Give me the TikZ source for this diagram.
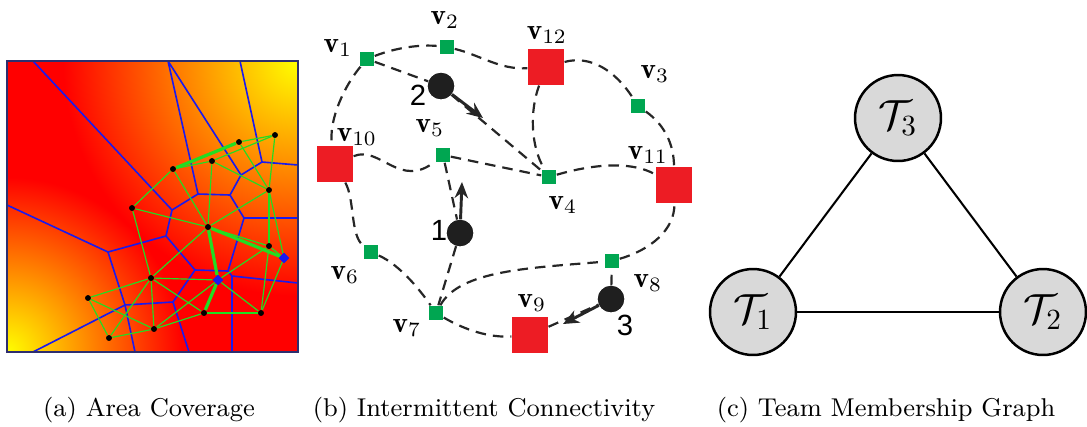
\documentclass[tikz,border=0pt]{standalone}
\usepackage{amsmath}
\usepackage{amssymb}
\usepackage{fontspec}
\newfontfamily\robotfont{Liberation Sans}
\usetikzlibrary{shapes,arrows,arrows.meta,positioning,calc}
\definecolor{sgreen}{HTML}{00A651}
\definecolor{dred}{HTML}{ED1C24}
\definecolor{vgreen}{HTML}{22DD22}
\definecolor{vblue}{HTML}{1A1AEE}
\definecolor{frameblue}{HTML}{2E2E6E}
\tikzset{
site/.style = {draw=none, fill=black, circle, inner sep=0pt, minimum size=1.9pt},
agent/.style = {draw=none, fill=vblue, diamond, inner sep=0pt, minimum size=3.6pt},
dlink/.style = {draw=vgreen, line width=0.4pt},
dthick/.style = {draw=vgreen, line width=1.1pt},
cell/.style = {draw=vblue, line width=0.55pt},
sensor/.style = {draw=none, fill=sgreen, rectangle, inner sep=0pt, minimum size=4.9pt},
depot/.style = {draw=none, fill=dred, rectangle, inner sep=0pt, minimum size=12.3pt},
robot/.style = {draw=none, fill=black!88, circle, inner sep=0pt, minimum size=9pt},
route/.style = {line width=0.75pt, dash pattern=on 3.6pt off 2.4pt, black!85},
move/.style = {-{Stealth[length=5.5pt, width=4.6pt]}, line width=1pt, black!85},
vlab/.style = {inner sep=0pt},
rlab/.style = {inner sep=0pt, font=\robotfont},
team/.style = {draw, fill=black!15, circle, line width=0.85pt, minimum size=29.4pt, inner sep=0pt, font=\Large},
tlink/.style = {line width=0.7pt},
subcap/.style = {inner sep=0pt, font=\fontsize{8.8}{10}\selectfont}
}

\begin{document}
\begin{tikzpicture}[x=0.342pt, y=-0.342pt]
    \useasboundingbox (0,0) rectangle (1087,426);

    % (a) coverage field
    \begin{scope}
    \clip (7,61) rectangle (298,352);
    \fill[red] (7,61) rectangle (298,352);
    \shade[inner color=yellow, outer color=red] (298,61) circle (235);
    \shade[inner color=yellow, outer color=red] (7,352) circle (175);
    % voronoi cells
    \draw[cell] (33,61) -- (172,210) -- (198,194) -- (230,195) -- (241,175) -- (262,162) -- (298,165);
    \draw[cell] (262,162) -- (240,61);
    \draw[cell] (241,175) -- (168,61) -- (198,194);
    \draw[cell] (230,195) -- (244,218) -- (298,218);
    \draw[cell] (244,218) -- (228,271) -- (195,270);
    \draw[cell] (228,271) -- (232,276) -- (298,283);
    \draw[cell] (232,276) -- (232,352);
    \draw[cell] (172,210) -- (166,236) -- (108,252) -- (7,205);
    \draw[cell] (166,236) -- (195,270) -- (173,302) -- (125,305) -- (108,252);
    \draw[cell] (125,305) -- (33,352);
    \draw[cell] (125,305) -- (135,352);
    \draw[cell] (173,302) -- (189,352);
    \end{scope}
    \draw[frameblue, line width=0.6pt] (7,61) rectangle (298,352);

    \node [site] (a1) at (275,135) {};
    \node [site] (a2) at (239,142) {};
    \node [site] (a3) at (212,161) {};
    \node [site] (a4) at (173,169) {};
    \node [site] (a5) at (269,190) {};
    \node [site] (a6) at (132,208) {};
    \node [site] (a7) at (208,227) {};
    \node [site] (a8) at (269,246) {};
    \node [site] (a9) at (151,278) {};
    \node [site] (a10) at (88,298) {};
    \node [site] (a11) at (204,313) {};
    \node [site] (a12) at (261,313) {};
    \node [site] (a13) at (154,329) {};
    \node [site] (a14) at (109,338) {};
    \node [agent] (d1) at (284,258) {};
    \node [agent] (d2) at (218,280) {};

    % delaunay links
    \foreach \p/\q in {a4/a3, a3/a1, a2/a1, a2/a5, a3/a5, a1/a5, a3/a7, a4/a6, a4/a7,
        a6/a7, a6/a9, a7/a5, a7/a8, a7/a9, a5/a8, a5/d1, a8/d1, a8/a12, d1/a12,
        a8/d2, d2/a12, a9/d2, a9/a11, a9/a13, a9/a10, a9/a14, a10/a14, a10/a13,
        a13/a14, a13/a11, a11/a12, a13/d2}
        \draw[dlink] (\p) -- (\q);
    \foreach \p/\q in {a4/a2, a7/d1, a7/d2, d2/a11}
        \draw[dthick] (\p) -- (\q);
    \foreach \n in {a1,a2,a3,a4,a5,a6,a7,a8,a9,a10,a11,a12,a13,a14}
        \node [site] at (\n) {};
    \node [agent] at (d1) {};
    \node [agent] at (d2) {};

    % (b) intermittent connectivity
    \node [sensor] (v1) at (367,59) {};
    \node [sensor] (v2) at (447,47) {};
    \node [sensor] (v3) at (638,106) {};
    \node [sensor] (v4) at (549,177) {};
    \node [sensor] (v5) at (443,155) {};
    \node [sensor] (v6) at (371,252) {};
    \node [sensor] (v7) at (436,313) {};
    \node [sensor] (v8) at (612,261) {};
    \node [depot] (v9) at (530,335) {};
    \node [depot] (v10) at (335,164) {};
    \node [depot] (v11) at (674,185) {};
    \node [depot] (v12) at (546,67) {};
    \node [robot] (r1) at (460,233) {};
    \node [robot] (r2) at (441,86) {};
    \node [robot] (r3) at (611,299) {};
    \coordinate (g1) at (462,182);
    \coordinate (g2) at (483,118);
    \coordinate (g3) at (563,324);

    \draw [route] (v1) .. controls (395,48) and (420,44) .. (v2);
    \draw [route] (v2) .. controls (480,55) and (500,70) .. (v12);
    \draw [route] (v12) .. controls (590,55) and (615,70) .. (v3);
    \draw [route] (v3) .. controls (665,125) and (674,145) .. (v11);
    \draw [route] (v12) .. controls (530,110) and (530,145) .. (v4);
    \draw [route] (v1) .. controls (345,85) and (328,120) .. (v10);
    \draw [route] (v10) .. controls (380,145) and (400,190) .. (v5);
    \draw [route] (v5) -- (v4);
    \draw [route] (v4) .. controls (590,165) and (630,160) .. (v11);
    \draw [route] (v10) .. controls (355,200) and (350,235) .. (v6);
    \draw [route] (v6) .. controls (400,265) and (420,290) .. (v7);
    \draw [route] (v7) .. controls (460,270) and (530,268) .. (v8);
    \draw [route] (v8) .. controls (650,250) and (675,230) .. (v11);
    \draw [route] (v7) .. controls (465,330) and (490,338) .. (v9);
    \draw [route] (v1) -- (r2) -- (v4);
    \draw [route] (v5) -- (r1) -- (v7);
    \draw [route] (v9) -- (r3) -- (v8);
    \node [robot] at (r1) {};
    \node [robot] at (r2) {};
    \node [robot] at (r3) {};
    \draw [move] (r1) -- (g1);
    \draw [move] (r2) -- (g2);
    \draw [move] (r3) -- (g3);

    \node [vlab] (l1) at (338,48) {$\mathbf{v}_1$};
    \node [vlab] (l2) at (445,20) {$\mathbf{v}_2$};
    \node [vlab] (l3) at (655,74) {$\mathbf{v}_3$};
    \node [vlab] (l4) at (563,205) {$\mathbf{v}_4$};
    \node [vlab] (l5) at (430,128) {$\mathbf{v}_5$};
    \node [vlab] (l6) at (345,275) {$\mathbf{v}_6$};
    \node [vlab] (l7) at (407,328) {$\mathbf{v}_7$};
    \node [vlab] (l8) at (648,283) {$\mathbf{v}_8$};
    \node [vlab] (l9) at (532,303) {$\mathbf{v}_9$};
    \node [vlab] (l10) at (357,137) {$\mathbf{v}_{10}$};
    \node [vlab] (l11) at (648,155) {$\mathbf{v}_{11}$};
    \node [vlab] (l12) at (547,35) {$\mathbf{v}_{12}$};
    \node [rlab] (n1) at (439,230) {1};
    \node [rlab] (n2) at (418,95) {2};
    \node [rlab] (n3) at (625,325) {3};

    % (c) team membership
    \node [team] (t3) at (898,118) {$\mathcal{T}_3$};
    \node [team] (t1) at (753,312) {$\mathcal{T}_1$};
    \node [team] (t2) at (1043,312) {$\mathcal{T}_2$};
    \draw [tlink] (t1) -- (t3);
    \draw [tlink] (t3) -- (t2);
    \draw [tlink] (t1) -- (t2);

    % captions
    \node [subcap] (ca) at (149,410) {(a) Area Coverage};
    \node [subcap] (cb) at (484,410) {(b) Intermittent Connectivity};
    \node [subcap] (cc) at (886,410) {(c) Team Membership Graph};
\end{tikzpicture}
\end{document}
